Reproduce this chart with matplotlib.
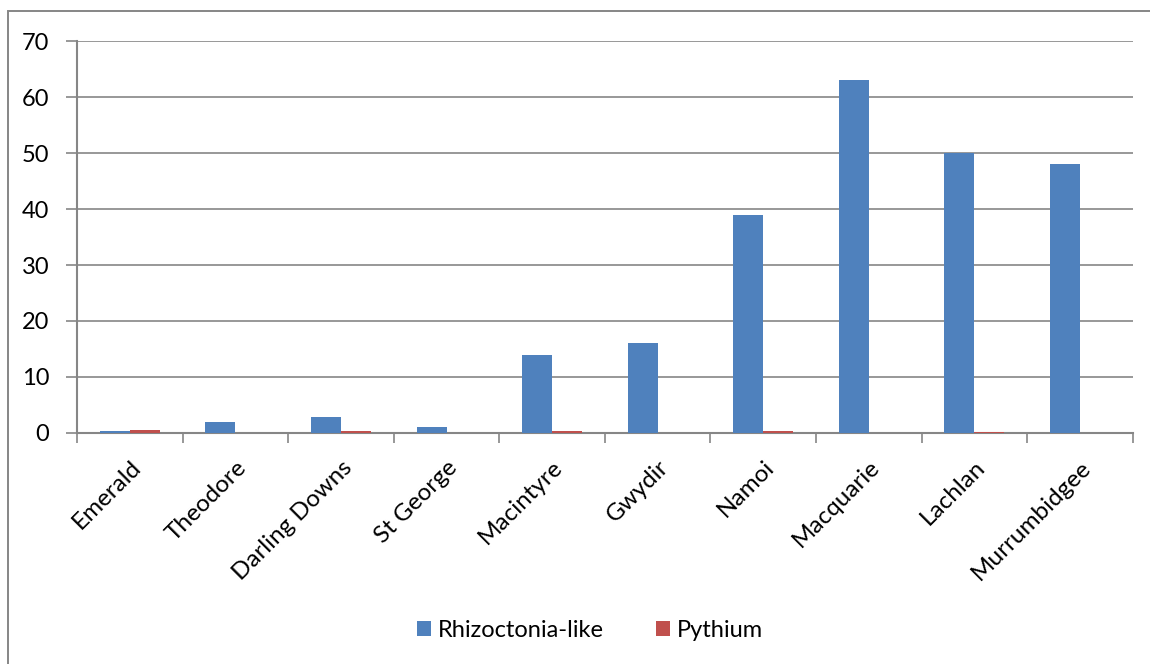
import matplotlib.pyplot as plt
import numpy as np
from matplotlib.patches import Rectangle

plt.rcParams['font.family'] = ['Lato', 'DejaVu Sans']

regions = ['Emerald', 'Theodore', 'Darling Downs', 'St George', 'Macintyre',
           'Gwydir', 'Namoi', 'Macquarie', 'Lachlan', 'Murrumbidgee']
rhizoctonia = [0.3, 2, 2.9, 1, 14, 16, 39, 63, 50, 48]
pythium = [0.5, 0, 0.3, 0, 0.3, 0, 0.3, 0, 0.2, 0]

blue = '#4f81bd'
red = '#c0504d'
grey = '#868686'

fig = plt.figure(figsize=(11.5, 6.64), dpi=100)
ax = fig.add_axes([0.067, 0.348, 0.918, 0.590])

x = np.arange(len(regions))
w = 0.284
ax.bar(x - w / 2, rhizoctonia, width=w, color=blue, label='Rhizoctonia-like', zorder=3)
ax.bar(x + w / 2, pythium, width=w, color=red, label='Pythium', zorder=3)

ax.set_xlim(-0.5, len(regions) - 0.5)
ax.set_ylim(0, 70)
ax.set_yticks(range(0, 71, 10))
ax.yaxis.grid(True, color=grey, linewidth=1.2, zorder=0)

# category boundaries get the tick marks, names sit at the centres
ax.set_xticks(np.arange(-0.5, len(regions), 1))
ax.set_xticklabels([])
ax.set_xticks(x, minor=True)
ax.set_xticklabels(regions, minor=True, rotation=45, ha='right', rotation_mode='anchor',
                   fontsize=17.5)
ax.tick_params(axis='x', which='minor', length=0, pad=17)
ax.tick_params(axis='x', which='major', length=7, width=1.2, color=grey)
ax.tick_params(axis='y', length=8, width=1.2, color=grey, labelsize=17, pad=12)

for side in ['top', 'right']:
    ax.spines[side].set_visible(False)
for side in ['left', 'bottom']:
    ax.spines[side].set_color(grey)
    ax.spines[side].set_linewidth(1.5)

ax.legend(loc='center', bbox_to_anchor=(0.513, 0.051), bbox_transform=fig.transFigure,
          ncol=2, frameon=False, fontsize=17, handlelength=0.6, handleheight=0.6,
          columnspacing=2.2, handletextpad=0.3)

# chart area border (runs off the right and bottom edges)
fig.patches.append(Rectangle((0.007, -0.1), 1.1, 1.083, transform=fig.transFigure,
                             fill=False, edgecolor=grey, linewidth=1.4))

fig.savefig('out.png', dpi=100)
